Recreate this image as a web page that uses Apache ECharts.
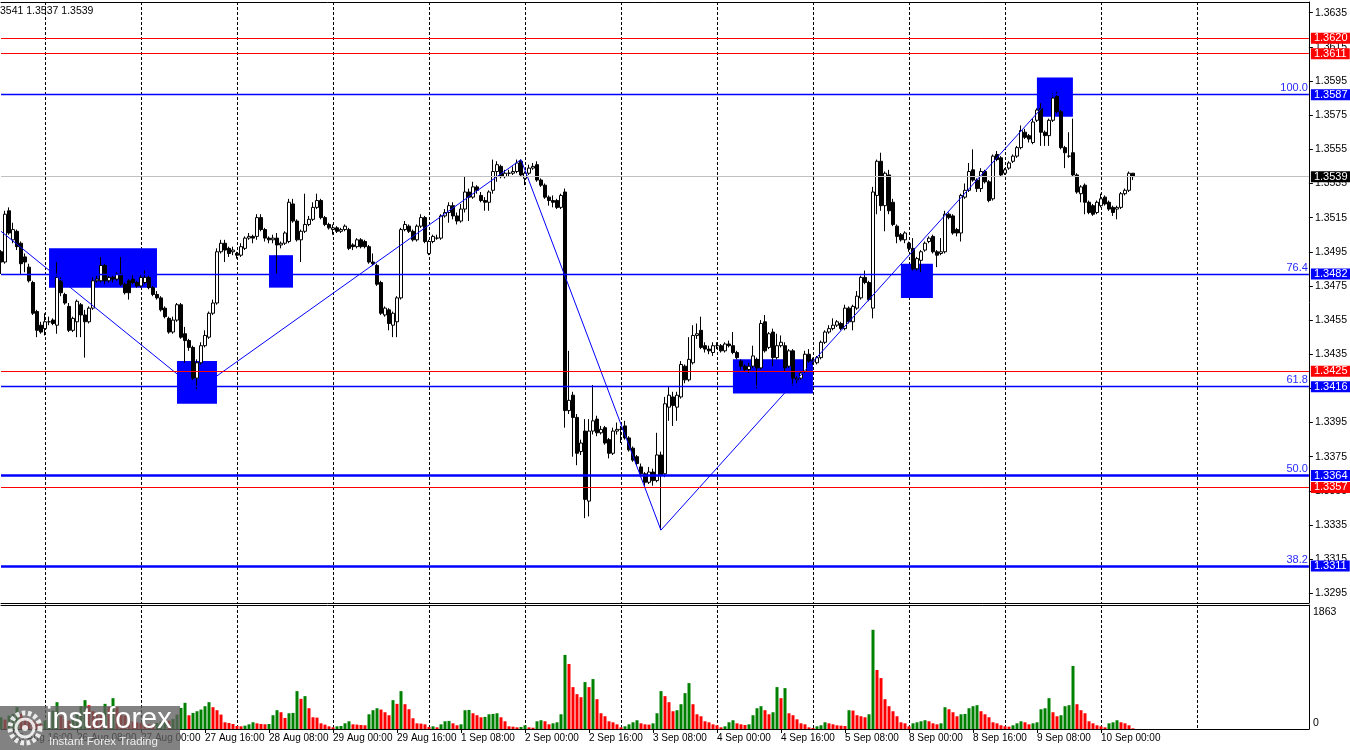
<!DOCTYPE html>
<html>
<head>
<meta charset="utf-8">
<script src="https://cdn.jsdelivr.net/npm/echarts@6/dist/echarts.min.js"></script>
<style>html,body{margin:0;padding:0;background:#fff}#c{width:1350px;height:750px}</style>
</head>
<body>
<div id="c"></div>
<script>
// ---------- data ----------
// hourly time axis: first bar 25 Aug 13:00, weekend hours skipped
const dayNames = ['25 Aug','26 Aug','27 Aug','28 Aug','29 Aug','1 Sep','2 Sep','3 Sep','4 Sep','5 Sep','8 Sep','9 Sep','10 Sep','11 Sep','12 Sep'];
const firstHour = 13;
const slotCount = 328;

// prices written as their last four digits: 3495 means 1.3495
const openP = [
3495,3489,3519,3502,3507,3500,3492,3486,3477,3460,
3452,3450,3454,3455,3452,3478,3470,3463,3449,3454,
3464,3458,3454,3462,3478,3478,3487,3478,3480,3479,
3482,3476,3478,3479,3477,3475,3477,3480,3474,3470,
3468,3462,3456,3448,3455,3464,3447,3443,3439,3421,
3430,3440,3445,3459,3465,3495,3500,3497,3495,3494,
3493,3497,3503,3504,3504,3515,3508,3503,3502,3503,
3499,3500,3501,3523,3513,3502,3507,3511,3514,3521,
3525,3515,3511,3508,3509,3507,3508,3508,3499,3498,
3502,3501,3498,3489,3487,3477,3458,3461,3452,3454,
3468,3508,3510,3507,3502,3510,3515,3494,3501,3503,
3503,3516,3518,3522,3516,3513,3520,3530,3527,3533,
3528,3525,3524,3531,3542,3545,3539,3541,3541,3542,
3548,3538,3541,3544,3546,3537,3534,3527,3525,3525,
3521,3530,3402,3411,3398,3378,3390,3349,3390,3397,
3389,3392,3385,3377,3390,3391,3393,3386,3380,3375,
3369,3365,3360,3366,3361,3376,3365,3404,3410,3404,
3410,3428,3420,3430,3446,3449,3440,3438,3436,3440,
3440,3437,3441,3440,3436,3431,3428,3426,3428,3432,
3427,3454,3439,3448,3433,3440,3440,3428,3437,3421,
3421,3425,3435,3431,3430,3433,3442,3448,3450,3452,
3453,3450,3462,3454,3462,3468,3480,3477,3462,3528,
3548,3522,3540,3524,3510,3505,3502,3500,3497,3485,
3490,3496,3501,3504,3495,3494,3495,3517,3516,3508,
3506,3527,3531,3543,3537,3532,3542,3536,3526,3552,
3550,3541,3544,3548,3551,3556,3565,3563,3559,3572,
3579,3565,3563,3572,3586,3577,3556,3551,3553,3540,
3529,3534,3524,3522,3518,3522,3527,3524,3521,3520,
3521,3529,3531,3541];
const closeP = [
3489,3517,3506,3508,3498,3488,3489,3478,3459,3449,
3448,3454,3454,3453,3480,3471,3465,3449,3456,3466,
3458,3454,3462,3478,3479,3487,3478,3480,3479,3482,
3476,3471,3471,3477,3475,3480,3480,3474,3470,3468,
3461,3457,3448,3455,3464,3445,3443,3439,3421,3430,
3440,3446,3459,3465,3495,3500,3496,3494,3496,3493,
3498,3503,3504,3503,3515,3508,3503,3502,3503,3499,
3500,3506,3524,3513,3502,3507,3511,3514,3521,3525,
3515,3511,3509,3509,3507,3508,3510,3497,3498,3502,
3498,3498,3489,3488,3476,3459,3462,3453,3459,3468,
3508,3511,3507,3502,3510,3515,3501,3501,3504,3503,
3516,3518,3522,3516,3513,3520,3530,3527,3533,3531,
3525,3524,3530,3542,3546,3539,3541,3541,3542,3547,
3540,3541,3544,3545,3537,3534,3527,3525,3524,3521,
3528,3402,3408,3398,3377,3383,3350,3390,3396,3389,
3391,3383,3377,3390,3391,3391,3386,3379,3373,3371,
3365,3360,3366,3361,3376,3364,3406,3411,3405,3411,
3429,3420,3432,3446,3447,3439,3438,3437,3440,3440,
3437,3441,3440,3436,3433,3428,3426,3428,3434,3427,
3453,3437,3447,3433,3440,3442,3427,3437,3421,3420,
3424,3435,3431,3431,3433,3442,3448,3450,3452,3454,
3450,3462,3454,3463,3469,3480,3477,3467,3530,3548,
3522,3541,3519,3511,3504,3502,3506,3497,3485,3491,
3495,3500,3503,3495,3493,3495,3517,3515,3506,3506,
3528,3531,3542,3537,3532,3542,3536,3525,3551,3549,
3540,3543,3547,3551,3556,3566,3562,3561,3571,3578,
3565,3563,3572,3585,3577,3556,3553,3551,3540,3530,
3533,3524,3518,3517,3524,3526,3523,3520,3518,3521,
3529,3531,3541,3539];
const highP = [
3496,3519,3521,3512,3508,3501,3494,3488,3478,3461,
3454,3459,3457,3456,3489,3480,3471,3465,3457,3467,
3465,3461,3463,3480,3481,3492,3488,3481,3481,3483,
3492,3477,3479,3482,3478,3482,3484,3481,3475,3472,
3469,3463,3457,3457,3465,3465,3451,3444,3440,3432,
3442,3449,3460,3467,3497,3502,3502,3498,3498,3495,
3500,3504,3506,3505,3517,3517,3509,3504,3505,3506,
3501,3507,3526,3526,3514,3508,3529,3516,3524,3529,
3526,3516,3512,3511,3510,3509,3511,3509,3500,3503,
3503,3502,3499,3494,3488,3478,3463,3462,3460,3469,
3509,3513,3511,3508,3511,3517,3516,3502,3505,3505,
3517,3520,3524,3524,3518,3523,3539,3532,3536,3534,
3530,3527,3531,3549,3548,3546,3543,3543,3545,3549,
3549,3542,3546,3547,3548,3538,3535,3528,3528,3526,
3529,3532,3437,3413,3400,3385,3397,3397,3417,3399,
3393,3393,3386,3392,3395,3393,3396,3387,3381,3376,
3371,3366,3369,3368,3389,3378,3410,3416,3413,3413,
3431,3429,3445,3452,3453,3457,3442,3440,3442,3442,
3441,3442,3443,3448,3437,3432,3429,3430,3440,3433,
3455,3458,3448,3450,3447,3446,3442,3438,3438,3422,
3425,3437,3438,3433,3434,3443,3449,3452,3456,3455,
3454,3464,3463,3464,3472,3481,3484,3478,3533,3549,
3553,3542,3543,3526,3511,3506,3507,3501,3503,3492,
3496,3501,3504,3505,3496,3503,3519,3518,3517,3509,
3529,3535,3547,3555,3538,3544,3543,3537,3552,3554,
3551,3544,3548,3552,3557,3569,3567,3564,3573,3579,
3582,3566,3573,3588,3589,3578,3557,3565,3573,3541,
3534,3535,3525,3523,3525,3529,3528,3525,3522,3522,
3530,3532,3542,3541];
const lowP = [
3482,3488,3505,3500,3496,3482,3483,3477,3458,3445,
3447,3446,3452,3452,3447,3469,3464,3448,3448,3445,
3445,3433,3453,3461,3477,3477,3476,3477,3477,3478,
3475,3470,3467,3476,3474,3474,3476,3473,3469,3467,
3460,3456,3447,3447,3454,3444,3430,3437,3420,3414,
3429,3439,3444,3458,3464,3494,3489,3492,3493,3491,
3492,3496,3502,3500,3502,3507,3501,3500,3500,3482,
3497,3499,3500,3512,3501,3489,3506,3510,3513,3520,
3514,3510,3508,3505,3506,3506,3507,3496,3496,3497,
3497,3497,3488,3487,3475,3458,3457,3449,3445,3445,
3467,3507,3506,3501,3501,3509,3500,3493,3500,3502,
3502,3515,3512,3514,3511,3512,3518,3513,3526,3529,
3524,3519,3519,3529,3536,3538,3538,3539,3540,3541,
3539,3534,3540,3543,3536,3533,3526,3522,3521,3520,
3520,3392,3400,3375,3370,3376,3339,3340,3388,3387,
3388,3382,3374,3376,3388,3383,3385,3378,3372,3370,
3363,3358,3359,3358,3360,3332,3363,3396,3393,3396,
3409,3418,3419,3429,3444,3438,3436,3435,3434,3438,
3436,3436,3439,3435,3432,3426,3425,3424,3427,3415,
3426,3436,3438,3428,3432,3439,3425,3427,3416,3418,
3420,3424,3430,3429,3429,3432,3441,3447,3449,3451,
3449,3449,3453,3449,3461,3467,3476,3466,3456,3517,
3519,3507,3517,3510,3500,3501,3500,3495,3484,3484,
3483,3495,3500,3494,3486,3493,3494,3514,3505,3504,
3501,3526,3530,3536,3530,3530,3535,3524,3525,3548,
3539,3540,3543,3547,3550,3555,3561,3559,3558,3571,
3557,3557,3557,3571,3576,3555,3544,3550,3539,3529,
3524,3517,3517,3516,3517,3521,3522,3519,3516,3514,
3520,3528,3530,3537];
const volumes = [
196,157,224,252,364,252,196,168,140,112,
84,140,224,308,448,224,168,140,168,252,
381,482,398,297,280,252,420,364,515,364,
241,224,168,123,112,101,84,78,67,101,
123,157,140,168,241,353,437,230,269,297,
325,381,448,364,314,241,112,101,84,50,
45,56,78,112,95,84,78,84,230,314,
280,185,263,269,633,504,549,347,196,190,
95,73,45,28,45,50,95,129,78,73,
67,62,246,314,347,325,280,230,482,420,
633,414,330,179,95,90,78,34,45,28,
78,129,135,95,62,78,314,319,263,230,
196,202,246,252,263,196,129,45,39,28,
34,62,28,22,129,146,129,78,95,112,
246,1238,1086,700,582,532,784,700,834,498,
263,213,129,112,78,28,45,78,112,146,
95,78,73,95,263,633,549,448,297,314,
414,599,767,414,246,213,129,112,78,62,
28,45,112,146,95,78,67,78,230,347,
381,314,246,280,700,515,683,263,230,162,
95,78,28,17,45,62,112,95,78,62,
56,50,314,308,230,213,196,246,1658,986,
851,498,381,297,213,112,95,45,95,112,
129,146,129,95,78,95,364,330,280,213,
246,252,347,381,398,297,246,196,112,95,
62,45,39,62,95,129,112,78,95,112,
330,347,515,280,213,230,381,398,1053,414,
314,263,129,95,62,45,28,95,112,146,
112,95,62,11];

const priceTicks = [1.3295,1.3315,1.3335,1.3355,1.3375,1.3395,1.3415,1.3435,1.3455,1.3475,1.3495,1.3515,1.3535,1.3555,1.3575,1.3595,1.3615,1.3635];
const volumeTicks = [0, 1863];
const priceMin = 1.328932, priceMax = 1.364127;
const volumeMax = 2072;

// horizontal levels: value, line colour, tag colour, width
const levelValues = [1.3620, 1.3611, 1.3587, 1.3539, 1.3482, 1.3425, 1.3416, 1.3364, 1.3357, 1.3311];
const levelColors = ['#ff0000','#ff0000','#0000ff','#c0c0c0','#0000ff','#ff0000','#0000ff','#0000ff','#ff0000','#0000ff'];
const levelTagColors = ['#ff0000','#ff0000','#0000ff','#000000','#0000ff','#ff0000','#0000ff','#0000ff','#ff0000','#0000ff'];
const levelWidths = [1,1,1.3,1,1.3,1,1.3,2.5,1,2.5];
const fibValues = [1.3587, 1.3482, 1.3416, 1.3364, 1.3311];
const fibTexts = ['100.0','76.4','61.8','50.0','38.2'];

// rectangles: [first bar, top price, last bar, bottom price]
const zones = [[12,1.3497,39,1.3474],[44,1.3431,54,1.3406],[67,1.3493,73,1.3474],[183,1.3432,203,1.3412],[225,1.3488,233,1.3468],[259,1.3597,268,1.3574]];
// zigzag: start point then swing bars (low/high)
const zigStart = [0, 1.3507];
const zigBars = [49,130,165,264];
const zigKinds = ['low','high','low','high'];

// ---------- build ----------
const FONT = "'Liberation Sans', Arial, sans-serif";
const P = v => Math.round(v) / 10000 + 1;
const cats = [];
{ let d = 0, h = firstHour;
  while (cats.length < slotCount) {
    cats.push(dayNames[d] + ' ' + String(h).padStart(2,'0') + ':00');
    h++; if (h === 24) { h = 0; d++; }
  } }
const lastBar = openP.length - 1;
const labelShown = (i) => i <= lastBar && (i - 3) % 16 === 0;
const dayLine = (i) => i <= 299 && (i - 11) % 24 === 0;

const candles = openP.map((o,i) => [P(o), P(closeP[i]), P(lowP[i]), P(highP[i])]);
const volData = volumes.map((v,i) => ({value: v, itemStyle: {color: (i > 0 && v <= volumes[i-1]) ? '#ff0000' : '#008000'}}));

const levelLines = levelValues.map((v,k) => ({
  yAxis: v,
  lineStyle: {color: levelColors[k], width: levelWidths[k], type: 'solid'},
  label: {show: true, position: 'end', distance: 2, formatter: v.toFixed(4),
    backgroundColor: levelTagColors[k], color: '#fff', padding: [1,3,0,3],
    fontFamily: FONT, fontSize: 11, lineHeight: 10}
}));
const fibLines = fibValues.map((v,k) => ({
  yAxis: v,
  lineStyle: {color: 'rgba(0,0,0,0)', width: 1, opacity: 1},
  label: {show: true, position: 'insideEndTop', distance: 1, formatter: fibTexts[k], opacity: 1,
    color: '#2a2aff', fontFamily: FONT, fontSize: 11}
}));
const zigPts = [zigStart].concat(zigBars.map((b,k) => [b, P(zigKinds[k] === 'low' ? lowP[b] : highP[b])]));
const zigLines = [];
for (let k = 0; k < zigPts.length - 1; k++) {
  zigLines.push([{coord: zigPts[k], lineStyle:{color:'#0000ff', width:1, type:'solid'}}, {coord: zigPts[k+1]}]);
}

const headerText = P(highP[lastBar]).toFixed(4).slice(2) + ' ' + P(lowP[lastBar]).toFixed(4) + ' ' + P(closeP[lastBar]).toFixed(4);

const dashed = {show: true, lineStyle: {color: '#000', width: 1, type: [3,2]}};
const blackLine = {show: true, lineStyle: {color: '#000', width: 1}};

const option = {
  animation: false,
  backgroundColor: '#fff',
  textStyle: {fontFamily: FONT},
  grid: [
    {left: 1, right: 41, top: 2, bottom: 147},
    {left: 1, right: 41, top: 605, bottom: 21}
  ],
  xAxis: [
    {gridIndex: 0, type: 'category', data: cats, boundaryGap: false, position: 'bottom',
      axisLine: blackLine, axisTick: {show: false}, axisLabel: {show: false},
      splitLine: Object.assign({interval: (i) => dayLine(i)}, dashed)},
    {gridIndex: 0, type: 'category', data: cats, boundaryGap: false, position: 'top',
      axisLine: blackLine, axisTick: {show: false}, axisLabel: {show: false}, splitLine: {show: false}},
    {gridIndex: 1, type: 'category', data: cats, boundaryGap: false, position: 'bottom',
      axisLine: blackLine,
      axisTick: {show: true, interval: (i) => labelShown(i), length: 4, lineStyle: {color: '#000'}},
      axisLabel: {show: true, interval: (i) => labelShown(i), align: 'left', margin: 4,
        color: '#000', fontFamily: FONT, fontSize: 10},
      splitLine: Object.assign({interval: (i) => dayLine(i)}, dashed)},
    {gridIndex: 1, type: 'category', data: cats, boundaryGap: false, position: 'top',
      axisLine: blackLine, axisTick: {show: false}, axisLabel: {show: false}, splitLine: {show: false}}
  ],
  yAxis: [
    {gridIndex: 0, type: 'value', position: 'right', min: priceMin, max: priceMax, scale: true,
      axisLine: blackLine,
      axisTick: {show: true, length: 4, customValues: priceTicks, lineStyle: {color: '#000'}},
      axisLabel: {show: true, customValues: priceTicks, margin: 6, color: '#000', fontFamily: FONT, fontSize: 10.5,
        formatter: (v) => v.toFixed(4)},
      splitLine: {show: false}},
    {gridIndex: 1, type: 'value', position: 'right', min: 0, max: volumeMax,
      axisLine: blackLine, axisTick: {show: false},
      axisLabel: {show: true, customValues: volumeTicks, margin: 4, verticalAlign: 'bottom',
        color: '#000', fontFamily: FONT, fontSize: 10.5, formatter: (v) => String(v)},
      splitLine: {show: false}}
  ],
  series: [
    {type: 'line', xAxisIndex: 0, yAxisIndex: 0, z: 1, silent: true, data: closeP.map(P),
      showSymbol: false, symbol: 'none', lineStyle: {opacity: 0, width: 0},
      markArea: {silent: true, precision: 6, itemStyle: {color: '#0000ff', opacity: 1},
        data: zones.map(z => [{coord: [z[0], z[1]]}, {coord: [z[2], z[3]]}])}},
    {type: 'candlestick', xAxisIndex: 0, yAxisIndex: 0, z: 2, data: candles, barWidth: 3,
      itemStyle: {color: '#ffffff', color0: '#000000', borderColor: '#000000', borderColor0: '#000000', borderWidth: 1}},
    {type: 'line', xAxisIndex: 0, yAxisIndex: 0, z: 3, silent: true, data: closeP.map(P),
      showSymbol: false, symbol: 'none', lineStyle: {color: 'rgba(0,0,0,0)', width: 0},
      markLine: {silent: true, precision: 6, symbol: ['none','none'], animation: false,
        label: {show: false},
        data: zigLines.concat(levelLines, fibLines)}},
    {type: 'bar', xAxisIndex: 2, yAxisIndex: 1, data: volData, barWidth: 3, z: 2}
  ],
  graphic: [
    {type: 'text', left: 0, top: 6, z: 50, style: {text: headerText, font: '10.5px ' + FONT, fill: '#000'}},
    {type: 'group', left: 0, top: 705, z: 100, children: [
      {type: 'rect', z: 100, shape: {x: 0, y: 0, width: 180, height: 45}, style: {fill: 'rgba(95,95,95,0.78)'}},
      {type: 'circle', z: 101, shape: {cx: 25, cy: 22, r: 15}, style: {fill: 'none', stroke: '#fff', lineWidth: 5, lineDash: [3.5, 2.6], opacity: 0.85}},
      {type: 'circle', z: 101, shape: {cx: 25, cy: 22, r: 9}, style: {fill: 'none', stroke: '#fff', lineWidth: 3, opacity: 0.85}},
      {type: 'circle', z: 101, shape: {cx: 25, cy: 22, r: 3}, style: {fill: '#fff', opacity: 0.85}},
      {type: 'text', z: 101, x: 46, y: -1, style: {text: 'instaforex', font: '29px ' + FONT, fill: '#fff'}},
      {type: 'text', z: 101, x: 49, y: 30, style: {text: 'Instant Forex Trading', font: '11.5px ' + FONT, fill: '#eeeeee'}}
    ]}
  ]
};
echarts.init(document.getElementById('c')).setOption(option);
</script>
</body>
</html>
